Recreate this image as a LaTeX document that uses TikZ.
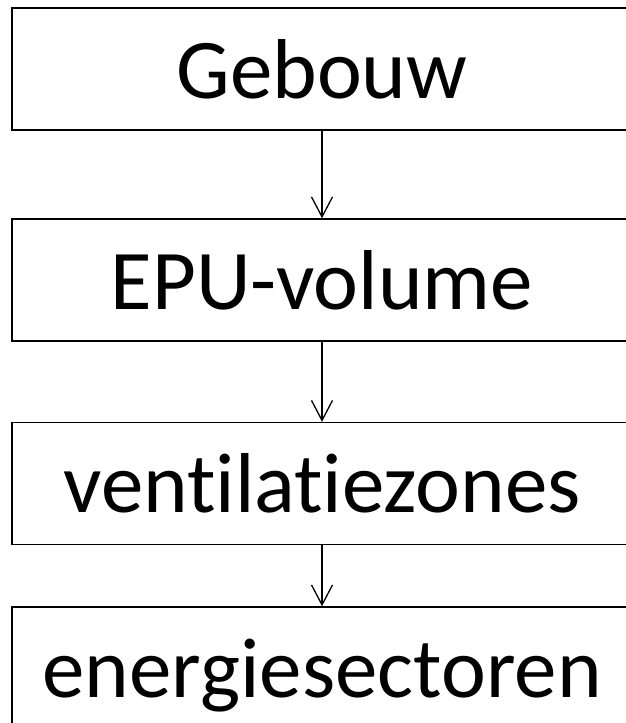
\documentclass[tikz,border=0pt]{standalone}
\usepackage{fontspec}
\setmainfont{Carlito}[Ligatures={NoCommon,NoContextual}]
\usetikzlibrary{arrows.meta}
\tikzset{
  stagebox/.style={draw=black, line width=1.4pt, rectangle, minimum width=620pt, minimum height=122pt,
    inner sep=0pt, text height=70pt, text depth=12pt,
    font=\fontsize{85pt}{100pt}\selectfont},
  flowarrow/.style={line width=1.3pt, -{Straight Barb[length=20pt, width=21pt, line width=1.3pt]}}
}
\begin{document}
\begin{tikzpicture}[x=1pt,y=-1pt]
\useasboundingbox (0,0) rectangle (625,723);
\node[stagebox] (b1) at (322,69) {Gebouw};
\node[stagebox] (b2) at (322,280) {EPU-volume};
\node[stagebox] (b3) at (322,483.5) {ventilatiezones};
\node[stagebox] (b4) at (322,668) {energiesectoren};
\draw[flowarrow] (b1.south) -- (b2.north);
\draw[flowarrow] (b2.south) -- (b3.north);
\draw[flowarrow] (b3.south) -- (b4.north);
\end{tikzpicture}
\end{document}
